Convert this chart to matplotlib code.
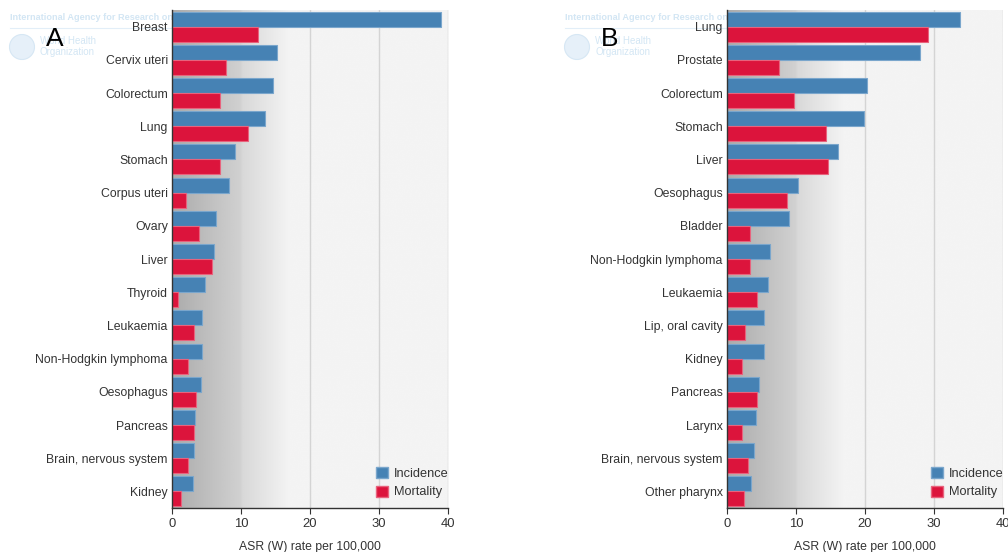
import matplotlib.pyplot as plt
import matplotlib.patches as mpatches
import numpy as np

plt.rcParams['font.family'] = ['Liberation Sans', 'DejaVu Sans']

# --- data: ASR (W) per 100,000 ---
cancers_a = ['Breast', 'Cervix uteri', 'Colorectum', 'Lung', 'Stomach',
             'Corpus uteri', 'Ovary', 'Liver', 'Thyroid', 'Leukaemia',
             'Non-Hodgkin lymphoma', 'Oesophagus', 'Pancreas',
             'Brain, nervous system', 'Kidney']
incidence_a = [39.0, 15.2, 14.6, 13.5, 9.1, 8.2, 6.4, 6.1, 4.8, 4.4,
               4.3, 4.2, 3.4, 3.2, 3.0]
mortality_a = [12.5, 7.8, 7.0, 11.0, 6.9, 2.0, 3.9, 5.8, 0.8, 3.2,
               2.3, 3.5, 3.2, 2.3, 1.3]

cancers_b = ['Lung', 'Prostate', 'Colorectum', 'Stomach', 'Liver',
             'Oesophagus', 'Bladder', 'Non-Hodgkin lymphoma', 'Leukaemia',
             'Lip, oral cavity', 'Kidney', 'Pancreas', 'Larynx',
             'Brain, nervous system', 'Other pharynx']
incidence_b = [33.8, 27.9, 20.3, 19.8, 16.1, 10.3, 9.0, 6.2, 5.9, 5.4,
               5.4, 4.6, 4.2, 3.9, 3.5]
mortality_b = [29.1, 7.5, 9.7, 14.3, 14.6, 8.7, 3.4, 3.4, 4.3, 2.6,
               2.2, 4.3, 2.2, 3.0, 2.5]

xticks = [0, 10, 20, 30, 40]

BLUE = '#4682b4'
RED = '#dc143c'
TEXT = '#333333'
FS = 8.8


def background(ax, n):
    # grey shading that fades out between 10 and 17
    xs = np.linspace(0, 40, 800)
    shade = np.where(xs <= 10, 0.67 + 0.15 * xs / 10,
                     np.minimum(0.955, 0.845 + 0.11 * (xs - 10) / 7))
    img = np.tile(shade, (2, 1))
    ax.imshow(img, cmap='gray', vmin=0, vmax=1, aspect='auto',
              extent=[0, 40, n - 0.5, -0.5], zorder=0, interpolation='bilinear')


def draw_panel(ax, cancers, incidence, mortality):
    n = len(cancers)
    y = np.arange(n)
    h = 0.45
    background(ax, n)
    for gx in xticks[1:]:
        ax.axvline(gx, color='#d4d4d4', lw=1, zorder=1)
    ax.barh(y - h / 2, incidence, height=h, color=BLUE,
            edgecolor='#7aa6cc', linewidth=0.8, zorder=2)
    ax.barh(y + h / 2, mortality, height=h, color=RED,
            edgecolor='#e8637d', linewidth=0.8, zorder=2)
    ax.set_xlim(0, 40)
    ax.set_ylim(n - 0.5, -0.5)
    ax.set_yticks(y)
    ax.set_yticklabels(cancers, fontsize=FS, color=TEXT)
    ax.tick_params(axis='y', length=0, pad=3)
    ax.set_xticks(xticks)
    ax.set_xticklabels([str(t) for t in xticks], fontsize=FS + 0.6, color=TEXT)
    ax.tick_params(axis='x', length=4, color=TEXT, pad=3)
    ax.set_xlabel('ASR (W) rate per 100,000', fontsize=FS, color=TEXT, labelpad=8)
    for s in ['top', 'right']:
        ax.spines[s].set_visible(False)
    for s in ['left', 'bottom']:
        ax.spines[s].set_color(TEXT)
        ax.spines[s].set_linewidth(1)
    handles = [mpatches.Patch(facecolor=BLUE, edgecolor='#7aa6cc', label='Incidence'),
               mpatches.Patch(facecolor=RED, edgecolor='#e8637d', label='Mortality')]
    ax.legend(handles=handles, loc='lower right', bbox_to_anchor=(1.045, -0.004),
              frameon=False, fontsize=FS + 0.4, handlelength=0.95, handleheight=0.95,
              handletextpad=0.45, labelspacing=0.45, labelcolor=TEXT)


fig = plt.figure(figsize=(10.08, 5.52), dpi=100)
ax_a = fig.add_axes([172 / 1008, 44 / 552, 276 / 1008, 498 / 552])
ax_b = fig.add_axes([727 / 1008, 44 / 552, 276 / 1008, 498 / 552])
ax_a.set_zorder(2)
ax_b.set_zorder(2)

draw_panel(ax_a, cancers_a, incidence_a, mortality_a)
draw_panel(ax_b, cancers_b, incidence_b, mortality_b)

# faint agency watermark behind each panel, with the panel letter on top
for x0, letter in [(10, 'A'), (565, 'B')]:
    fig.text(x0 / 1008, 1 - 18 / 552, 'International Agency for Research on Cancer',
             fontsize=6.6, color='#d3e6f4', weight='bold', va='center', zorder=0)
    fig.add_artist(plt.Line2D([x0 / 1008, (x0 + 165) / 1008],
                              [1 - 28 / 552, 1 - 28 / 552],
                              color='#e2eef8', lw=0.8, zorder=0))
    fig.add_artist(mpatches.Ellipse(((x0 + 12) / 1008, 1 - 47 / 552),
                                    25 / 1008, 25 / 552, facecolor='#e6f0f9',
                                    edgecolor='#d6e7f4', lw=0.8, zorder=0))
    fig.text((x0 + 30) / 1008, 1 - 41 / 552, 'World Health', fontsize=7,
             color='#d3e6f4', va='center', zorder=0)
    fig.text((x0 + 30) / 1008, 1 - 52 / 552, 'Organization', fontsize=7,
             color='#d3e6f4', va='center', zorder=0)
    fig.text((x0 + 36) / 1008, 1 - 39 / 552, letter, fontsize=19,
             color='black', va='center', zorder=5)

fig.savefig('out.png', dpi=100)
